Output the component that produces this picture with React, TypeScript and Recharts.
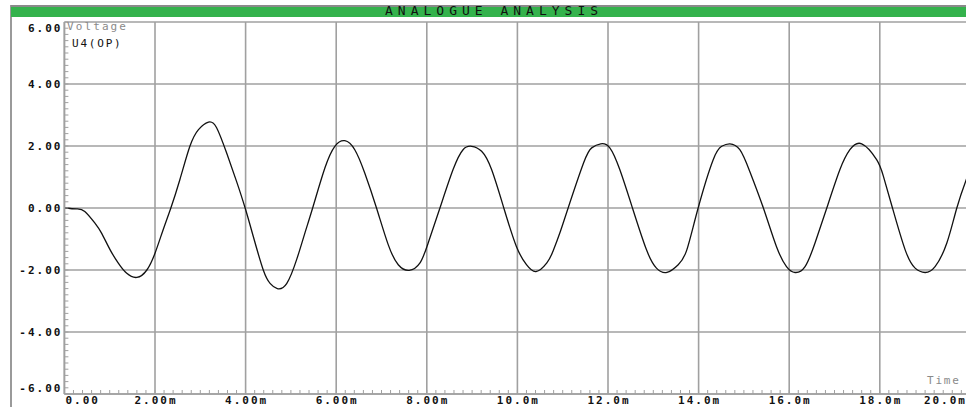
import React from 'react';
import { LineChart, Line, XAxis, YAxis, CartesianGrid, ReferenceLine } from 'recharts';

const timeMs = [0, 0.27, 0.45, 0.67, 0.82, 1.01, 1.19, 1.37, 1.6, 1.82, 2.0, 2.18, 2.35, 2.55, 2.77, 2.96, 3.18, 3.36, 3.58, 3.8, 3.99, 4.17, 4.39, 4.54, 4.7, 4.91, 5.13, 5.3, 5.49, 5.75, 5.97, 6.19, 6.41, 6.63, 6.89, 7.15, 7.37, 7.61, 7.85, 8.03, 8.29, 8.58, 8.8, 8.99, 9.21, 9.43, 9.7, 9.98, 10.2, 10.41, 10.65, 10.79, 10.95, 11.12, 11.46, 11.64, 11.84, 12.04, 12.26, 12.54, 12.85, 13.07, 13.3, 13.55, 13.74, 13.99, 14.32, 14.51, 14.69, 14.91, 15.13, 15.43, 15.72, 15.94, 16.13, 16.35, 16.57, 16.83, 17.12, 17.34, 17.6, 17.93, 18.08, 18.28, 18.56, 18.78, 19.0, 19.22, 19.48, 19.7, 19.91, 20.0];
const voltage = [0, -0.03, -0.11, -0.48, -0.81, -1.35, -1.78, -2.1, -2.24, -2.0, -1.46, -0.7, 0, 0.92, 1.99, 2.53, 2.77, 2.59, 1.78, 0.86, 0, -0.92, -2.0, -2.43, -2.6, -2.43, -1.65, -0.85, 0.05, 1.29, 1.99, 2.17, 1.88, 1.13, 0, -1.19, -1.83, -2.01, -1.77, -1.13, 0, 1.24, 1.88, 1.99, 1.83, 1.24, 0, -1.25, -1.83, -2.05, -1.77, -1.38, -0.75, 0, 1.45, 1.94, 2.07, 1.94, 1.24, 0, -1.35, -1.94, -2.08, -1.83, -1.35, 0, 1.55, 1.99, 2.07, 1.88, 1.18, 0, -1.25, -1.89, -2.08, -1.89, -1.13, 0, 1.24, 1.88, 2.07, 1.56, 1.02, 0, -1.35, -1.94, -2.08, -1.89, -1.13, 0, 0.92, 1.25];

const xTicks = [0, 2, 4, 6, 8, 10, 12, 14, 16, 18, 20];
const xTickLabels = ['0.00', '2.00m', '4.00m', '6.00m', '8.00m', '10.0m', '12.0m', '14.0m', '16.0m', '18.0m', '20.0m'];
const yTicks = [-6, -4, -2, 0, 2, 4, 6];
const yTickLabels = ['-6.00', '-4.00', '-2.00', '0.00', '2.00', '4.00', '6.00'];

const xMinorTicks = Array.from({ length: 101 }, (_, i) => Math.round(i * 2) / 10);
const yMinorTicks = Array.from({ length: 61 }, (_, i) => Math.round((-6 + i * 0.2) * 10) / 10);

const data = timeMs.map((t, i) => ({ t, v: voltage[i] }));

const FONT = '"DejaVu Sans Mono", monospace';
const GRID = '#a0a0a0';

const XTick = (props: any) => {
  const { x, payload } = props;
  const idx = xTicks.indexOf(payload.value);
  const label = idx >= 0 ? xTickLabels[idx] : '';
  let anchor: 'start' | 'middle' | 'end' = 'middle';
  let px = x + 1;
  if (payload.value === 0) { anchor = 'start'; px = x + 1; }
  if (payload.value === 20) { anchor = 'end'; px = 967; }
  return (
    <text x={px} y={404} textAnchor={anchor} fontFamily={FONT} fontSize={11} fontWeight="bold" letterSpacing={2} fill="#111">
      {label}
    </text>
  );
};

const YTick = (props: any) => {
  const { x, y, payload } = props;
  const idx = yTicks.indexOf(payload.value);
  const label = idx >= 0 ? yTickLabels[idx] : '';
  let dy = 4;
  if (payload.value === 6) dy = 10;
  if (payload.value === -6) dy = -2;
  return (
    <g>
      <line x1={x + 4} x2={x + 8} y1={y} y2={y} stroke={GRID} strokeWidth={1} />
      {label ? (
        <text x={x + 2} y={y + dy} textAnchor="end" fontFamily={FONT} fontSize={11} fontWeight="bold" letterSpacing={2} fill="#111">
          {label}
        </text>
      ) : null}
    </g>
  );
};

const Empty = () => <g />;

export default function App() {
  return (
    <div style={{ position: 'fixed', left: 0, top: 0, width: 966, height: 407, overflow: 'hidden', background: '#fff' }}>
      <div style={{ position: 'absolute', left: 10, top: 5, width: 2, height: 402, background: '#9a9a9a' }} />
      <div style={{ position: 'absolute', left: 11, top: 5, width: 955, height: 2, background: '#8a8a8a' }} />
      <div style={{ position: 'absolute', left: 11, top: 7, width: 955, height: 10, background: '#34b24c' }} />
      <div style={{ position: 'absolute', left: 385, top: 4, height: 14, lineHeight: '14px', fontFamily: FONT, fontSize: 13, letterSpacing: 5, color: '#111', whiteSpace: 'nowrap' }}>
        ANALOGUE ANALYSIS
      </div>
      <div style={{ position: 'absolute', left: 0, top: 0 }}>
        <LineChart width={990} height={407} data={data} margin={{ top: 22, right: 19.6, left: 10.4, bottom: 0 }}>
          <CartesianGrid stroke={GRID} strokeWidth={1.6} horizontal={false} />
          <XAxis xAxisId="minor" dataKey="t" type="number" domain={[0, 20]} ticks={xMinorTicks} interval={0} mirror height={1} tickSize={4} tickLine={{ stroke: GRID, strokeWidth: 1 }} axisLine={false} tick={Empty} />
          <XAxis dataKey="t" type="number" domain={[0, 20]} ticks={xTicks} interval={0} height={13} tickSize={0} tickLine={false} axisLine={{ stroke: GRID, strokeWidth: 1.6 }} tick={XTick} />
          <YAxis type="number" domain={[-6, 6]} ticks={yMinorTicks} interval={0} width={54} tickSize={0} tickMargin={4} tickLine={false} axisLine={{ stroke: GRID, strokeWidth: 1.6 }} tick={YTick} />
          {yTicks.map((v) => (
            <ReferenceLine key={v} y={v} stroke={GRID} strokeWidth={1.6} ifOverflow="extendDomain" />
          ))}
          <Line type="natural" dataKey="v" stroke="#111" strokeWidth={1.3} dot={false} isAnimationActive={false} />
        </LineChart>
      </div>
      <div style={{ position: 'absolute', left: 67, top: 21, fontFamily: FONT, fontSize: 11, lineHeight: '12px', letterSpacing: 2.1, color: '#8a8a8a', whiteSpace: 'nowrap' }}>Voltage</div>
      <div style={{ position: 'absolute', left: 72, top: 38, fontFamily: FONT, fontSize: 11, lineHeight: '12px', letterSpacing: 1.8, color: '#111', whiteSpace: 'nowrap' }}>U4(OP)</div>
      <div style={{ position: 'absolute', left: 927, top: 375, fontFamily: FONT, fontSize: 11, lineHeight: '12px', letterSpacing: 1.8, color: '#8a8a8a', whiteSpace: 'nowrap' }}>Time</div>
    </div>
  );
}
